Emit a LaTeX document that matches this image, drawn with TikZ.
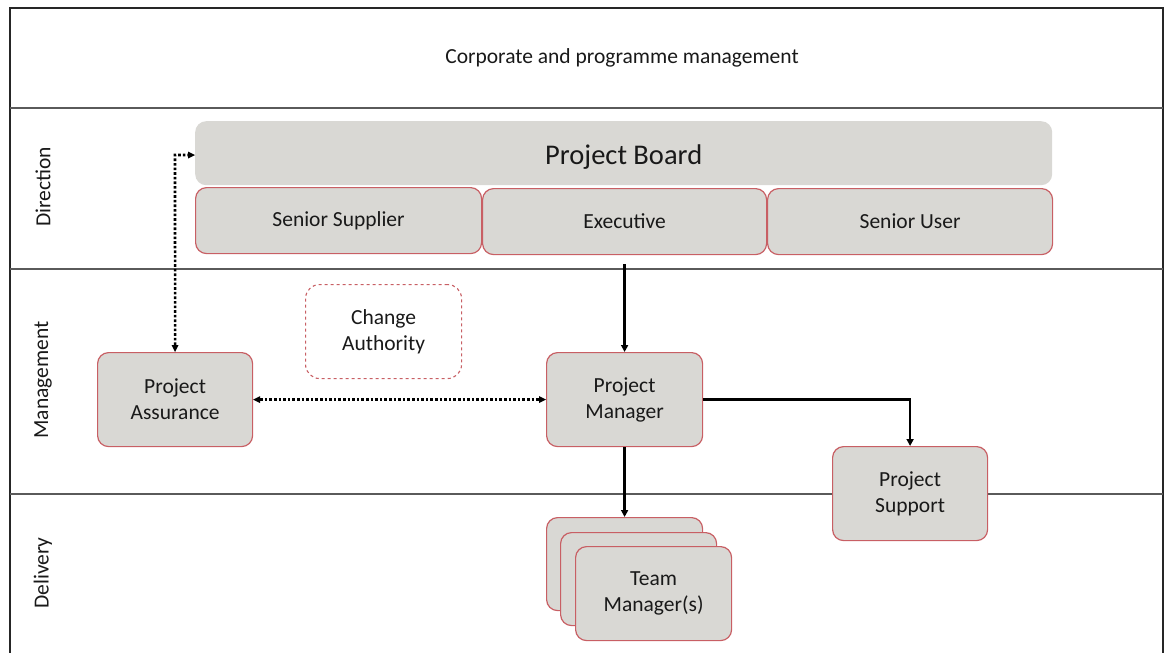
\documentclass[tikz,border=0pt]{standalone}
\usepackage{fontspec}
\setmainfont{Carlito}
\usetikzlibrary{arrows.meta}
\definecolor{boxfill}{RGB}{217,216,212}
\definecolor{boxred}{RGB}{200,95,100}
\definecolor{sepline}{RGB}{90,90,90}
\begin{document}
\begin{tikzpicture}[x=1pt,y=-1pt,
  every node/.style={font=\fontsize{21.5}{26}\selectfont, text=black!90, align=center, inner sep=0pt},
  rolebox/.style={draw=boxred, line width=1.2pt, fill=boxfill, rounded corners=11pt, anchor=north west},
  laneLabel/.style={rotate=90},
  solidarrow/.style={line width=2.4pt, -{Triangle[length=7pt,width=7pt]}},
  dotarrow/.style={line width=2.6pt, dotted, {Triangle[length=7pt,width=7pt,line width=0pt]}-{Triangle[length=7pt,width=7pt,line width=0pt]}}
]
\useasboundingbox (0,0) rectangle (1165,653);
% frame and lanes
\draw[line width=1.2pt, black!85] (10,8) rectangle (1163,660);
\draw[line width=1.2pt, sepline] (10,108) -- (1163,108);
\draw[line width=1.2pt, sepline] (10,269) -- (1163,269);
\draw[line width=1.2pt, sepline] (10,494) -- (1163,494);
\node (corp) at (622,58) {Corporate and programme management};
\node[laneLabel] (dir) at (43,187) {Direction};
\node[laneLabel] (mgmt) at (43,380) {Management};
\node[laneLabel] (deliv) at (43,573) {Delivery};
% board
\node[fill=boxfill, rounded corners=11pt, anchor=north west, minimum width=857pt, minimum height=64pt] (board) at (195,121) {};
\node (boardtext) at ([yshift=-4pt]board.center) {\fontsize{28.5}{32}\selectfont Project Board};
\node[rolebox, minimum width=286pt, minimum height=66pt] (ss) at (195,187) {Senior Supplier};
\node[rolebox, minimum width=284pt, minimum height=66pt] (exec) at (482,188) {Executive};
\node[rolebox, minimum width=285pt, minimum height=66pt] (su) at (767,188) {Senior User};
% management
\node[draw=boxred, dashed, line width=1.1pt, rounded corners=14pt, anchor=north west,
      minimum width=156pt, minimum height=94pt] (ca) at (305,284) {Change\\Authority};
\node[rolebox, minimum width=155pt, minimum height=94pt] (pa) at (97,352) {Project\\Assurance};
\node[rolebox, minimum width=156pt, minimum height=94pt] (pm) at (546,352) {Project\\Manager};
\node[rolebox, minimum width=155pt, minimum height=94pt] (ps) at (832,446) {Project\\Support};
% team managers
\node[rolebox, minimum width=156pt, minimum height=93pt] (tm1) at (546,517) {};
\node[rolebox, minimum width=156pt, minimum height=93pt] (tm2) at (560,532) {};
\node[rolebox, minimum width=156pt, minimum height=94pt] (tm3) at (575,546) {Team\\Manager(s)};
% connectors
\draw[solidarrow, shorten <=9pt] (exec.south) -- (pm.north);
\draw[solidarrow] (pm.east) -| (ps.north);
\draw[solidarrow] (pm.south) -- (tm1.north);
\draw[dotarrow] (pa.east) -- (pm.west);
\coordinate (bend) at (175,155);
\draw[dotarrow] (pa.north) -- (bend) -- (board.west |- bend);
\end{tikzpicture}
\end{document}
